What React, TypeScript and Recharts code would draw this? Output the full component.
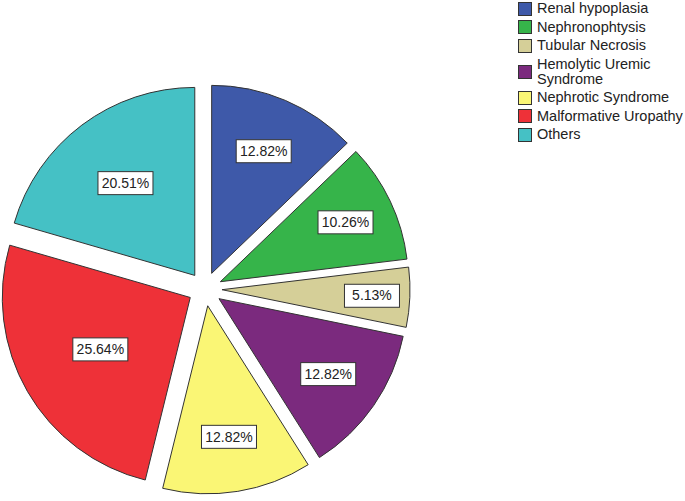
import { PieChart, Pie, Cell, Legend, Sector } from 'recharts';

const CATEGORIES = [
  'Renal hypoplasia',
  'Nephronophtysis',
  'Tubular Necrosis',
  'Hemolytic Uremic Syndrome',
  'Nephrotic Syndrome',
  'Malformative Uropathy',
  'Others',
];

const PERCENTS = [12.82, 10.26, 5.13, 12.82, 12.82, 25.64, 20.51];

const COLORS = ['#3E59A9', '#36B44A', '#D5CF98', '#7B2A7E', '#FAF675', '#EE3138', '#45C1C5'];

const EXPLODE = 17;
const FONT = '"Liberation Sans", Arial, sans-serif';

const data = CATEGORIES.map((name, i) => ({ name, value: PERCENTS[i] }));

const renderSlice = (props: any) => {
  const { cx, cy, midAngle, innerRadius, outerRadius, startAngle, endAngle, fill } = props;
  const rad = (-midAngle * Math.PI) / 180;
  return (
    <Sector
      cx={cx + EXPLODE * Math.cos(rad)}
      cy={cy + EXPLODE * Math.sin(rad)}
      innerRadius={innerRadius}
      outerRadius={outerRadius}
      startAngle={startAngle}
      endAngle={endAngle}
      fill={fill}
      stroke="#333"
      strokeWidth={1}
    />
  );
};

const renderLabel = (props: any) => {
  const { cx, cy, midAngle, outerRadius, percent, value } = props;
  const rad = (-midAngle * Math.PI) / 180;
  const r = EXPLODE + outerRadius * (0.86 - 1.2 * percent);
  const x = cx + r * Math.cos(rad);
  const y = cy + r * Math.sin(rad);
  const w = 55;
  const h = 23;
  return (
    <g>
      <rect x={x - w / 2} y={y - h / 2} width={w} height={h} fill="#fff" stroke="#333" strokeWidth={1} />
      <text x={x} y={y + 1} textAnchor="middle" dominantBaseline="middle" fontSize={14} fontFamily={FONT} fill="#222">
        {`${Number(value).toFixed(2)}%`}
      </text>
    </g>
  );
};

// keep the legend in data order (recharts sorts it by name otherwise)
const renderLegend = (props: any) => {
  const payload = [...(props.payload || [])].sort(
    (a: any, b: any) => CATEGORIES.indexOf(a.value) - CATEGORIES.indexOf(b.value)
  );
  return (
    <div style={{ fontFamily: FONT, fontSize: 14.5, color: '#222' }}>
      {payload.map((entry: any, i: number) => (
        <div key={`leg-${i}`} style={{ display: 'flex', alignItems: 'center', marginBottom: 3.5 }}>
          <span
            style={{
              width: 12,
              height: 12,
              background: entry.color,
              border: '1px solid #333',
              marginRight: 5,
              flexShrink: 0,
            }}
          />
          <span style={{ lineHeight: '15px', maxWidth: 150 }}>{entry.value}</span>
        </div>
      ))}
    </div>
  );
};

export default function App() {
  return (
    <div style={{ position: 'absolute', left: 0, top: 0, background: '#fff' }}>
      <PieChart width={685} height={501} margin={{ top: 0, right: 0, bottom: 0, left: 0 }}>
        <Pie
          data={data}
          dataKey="value"
          nameKey="name"
          cx={205}
          cy={289}
          outerRadius={188}
          startAngle={90}
          endAngle={-270}
          labelLine={false}
          label={renderLabel}
          shape={renderSlice}
          isAnimationActive={false}
        >
          {data.map((entry, index) => (
            <Cell key={`cell-${index}`} fill={COLORS[index]} />
          ))}
        </Pie>
        <Legend
          content={renderLegend}
          layout="vertical"
          wrapperStyle={{ position: 'absolute', left: 518, top: 1, width: 167 }}
        />
      </PieChart>
    </div>
  );
}
